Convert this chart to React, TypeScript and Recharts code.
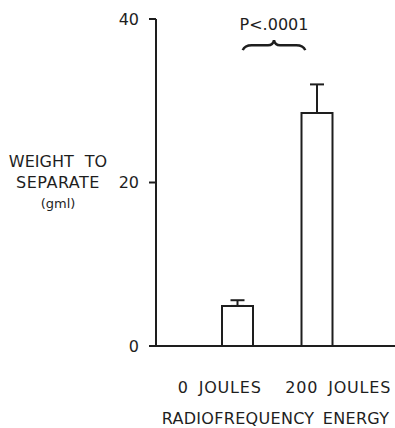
import React from 'react';
import {
  BarChart,
  Bar,
  XAxis,
  YAxis,
  ErrorBar,
  ReferenceLine,
  Label,
} from 'recharts';

const categories = ['0 JOULES', '200 JOULES'];
const meanWeight = [4.9, 28.5];
const errorUp = [0.7, 3.5];
const yTicks = [0, 20, 40];
const yTitle = ['WEIGHT TO', 'SEPARATE', '(gml)'];
const xTitle = 'RADIOFREQUENCY ENERGY';
const pText = 'P<.0001';
const braceLevel = 36.8;

const data = categories.map((name, i) => ({
  name,
  value: meanWeight[i],
  err: [0, errorUp[i]],
}));

const INK = '#1e1e1e';
const FONT = '"DejaVu Sans", sans-serif';

const XTick = (props: any) => {
  const { x, y, payload, index } = props;
  const shift = index === 0 ? -18 : 21;
  return (
    <text
      x={x + shift}
      y={y + 39}
      textAnchor="middle"
      fill={INK}
      fontSize={16}
      fontFamily={FONT}
      letterSpacing={0.8}
      wordSpacing={4}
    >
      {payload.value}
    </text>
  );
};

const YTitle = (props: any) => {
  const vb = props.viewBox;
  const cx = vb.x + 58;
  return (
    <g fill={INK} fontFamily={FONT} textAnchor="middle">
      <text x={cx} y={vb.y + 148} fontSize={16} wordSpacing={6}>{yTitle[0]}</text>
      <text x={cx} y={vb.y + 169} fontSize={16} letterSpacing={0.5}>{yTitle[1]}</text>
      <text x={cx} y={vb.y + 189} fontSize={13}>{yTitle[2]}</text>
    </g>
  );
};

const XTitle = (props: any) => {
  const vb = props.viewBox;
  return (
    <text
      x={vb.x + vb.width / 2}
      y={vb.y + 78}
      textAnchor="middle"
      fill={INK}
      fontSize={16}
      fontFamily={FONT}
      letterSpacing={0.3}
      wordSpacing={3}
    >
      {xTitle}
    </text>
  );
};

const Brace = (props: any) => {
  const { x1, x2, y1 } = props;
  const a = x1 + 5;
  const b = x2 - 12;
  const m = (a + b) / 2;
  const y = y1;
  const d = `M${a},${y + 5} Q${a + 2},${y} ${a + 9},${y} L${m - 6},${y} Q${m - 1},${y} ${m},${y - 5} Q${m + 1},${y} ${m + 6},${y} L${b - 9},${y} Q${b - 2},${y} ${b},${y + 5}`;
  return (
    <g>
      <path d={d} fill="none" stroke={INK} strokeWidth={2.5} />
      <text x={m} y={y - 15} textAnchor="middle" fill={INK} fontSize={16} fontFamily={FONT}>
        {pText}
      </text>
    </g>
  );
};

export default function App() {
  return (
    <div style={{ position: 'absolute', left: 0, top: 0, background: '#fff' }}>
      <BarChart width={395} height={428} data={data} margin={{ top: 19, right: 0, bottom: 0, left: 0 }}>
        <XAxis
          dataKey="name"
          height={82}
          padding={{ left: 42, right: 38 }}
          tickLine={false}
          axisLine={{ stroke: INK, strokeWidth: 2 }}
          tick={<XTick />}
          interval={0}
        >
          <Label content={<XTitle />} />
        </XAxis>
        <YAxis
          width={156}
          domain={[0, 40]}
          ticks={yTicks}
          tickSize={7}
          tickMargin={10}
          axisLine={{ stroke: INK, strokeWidth: 2 }}
          tickLine={{ stroke: INK, strokeWidth: 2 }}
          tick={{ fill: INK, fontSize: 16, fontFamily: FONT }}
        >
          <Label content={<YTitle />} />
        </YAxis>
        <Bar dataKey="value" barSize={31} fill="#fff" stroke={INK} strokeWidth={2} isAnimationActive={false}>
          <ErrorBar dataKey="err" direction="y" width={7} stroke={INK} strokeWidth={2} isAnimationActive={false} />
        </Bar>
        <ReferenceLine
          segment={[
            { x: categories[0], y: braceLevel },
            { x: categories[1], y: braceLevel },
          ]}
          shape={<Brace />}
        />
      </BarChart>
    </div>
  );
}
